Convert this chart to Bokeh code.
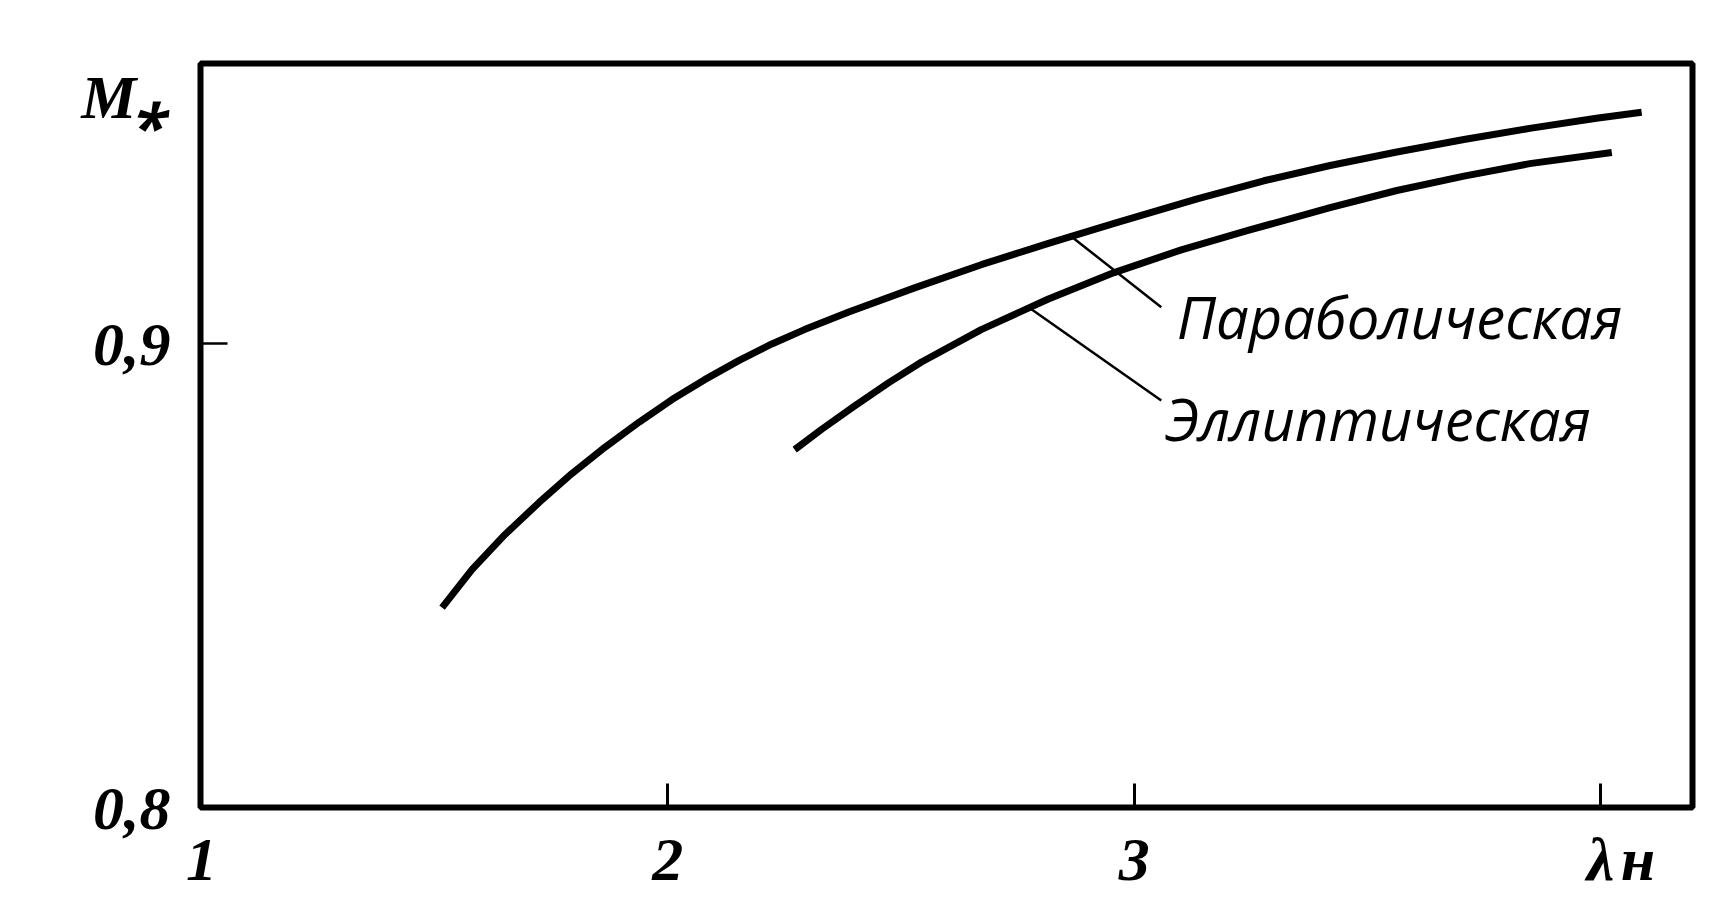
import numpy as np
from bokeh.plotting import figure
from bokeh.models import Range1d, FixedTicker, Label
from bokeh.embed import file_html
from bokeh.resources import INLINE

# ---- data ----
lam_parab = [1.516, 1.580, 1.651, 1.724, 1.794, 1.865, 1.938, 2.009, 2.079, 2.152,
             2.223, 2.293, 2.388, 2.529, 2.672, 2.816, 2.957, 3.135, 3.278, 3.420,
             3.563, 3.707, 3.848, 3.991, 4.088]
m_parab = [0.8431, 0.8513, 0.8589, 0.8658, 0.8720, 0.8777, 0.8831, 0.8880, 0.8923,
           0.8964, 0.9000, 0.9031, 0.9069, 0.9121, 0.9171, 0.9217, 0.9260, 0.9313,
           0.9352, 0.9385, 0.9414, 0.9441, 0.9465, 0.9487, 0.9500]

lam_ellip = [2.272, 2.330, 2.400, 2.473, 2.544, 2.672, 2.816, 2.957, 3.101, 3.244,
             3.420, 3.563, 3.707, 3.848, 4.024]
m_ellip = [0.8772, 0.8816, 0.8866, 0.8916, 0.8961, 0.9031, 0.9097, 0.9154, 0.9203,
           0.9245, 0.9294, 0.9331, 0.9362, 0.9389, 0.9413]

# tick labels (the axis titles λн and M* sit in the tick rows, as in the reference)
x_ticks = [1, 2, 3, 4, 4.08]
x_tick_labels = ["1", "2", "3", "λ", "н"]
x_tick_marks = [2, 3, 4]
y_ticks = [0.8, 0.9, 0.9532]
y_tick_labels = ["0,8", "0,9", "M⁎"]
y_tick_marks = [0.9]

curve_names = ["Параболическая", "Эллиптическая"]

# ---- figure ----
p = figure(width=1709, height=906, output_backend="svg", toolbar_location=None,
           x_range=Range1d(0.998, 4.197), y_range=Range1d(0.8, 0.9605),
           min_border_left=200, min_border_right=17, min_border_top=63,
           min_border_bottom=99)
p.background_fill_color = "white"
p.border_fill_color = "white"
p.outline_line_color = "black"
p.outline_line_width = 6
p.xgrid.visible = False
p.ygrid.visible = False

tick_font = "Liberation Serif"

xa = p.xaxis[0]
xa.ticker = FixedTicker(ticks=x_ticks, minor_ticks=x_tick_marks)
xa.major_label_overrides = {t: l for t, l in zip(x_ticks, x_tick_labels)}
xa.axis_line_color = None
xa.major_tick_in = 0
xa.major_tick_out = 0
xa.major_tick_line_color = None
xa.minor_tick_in = 24
xa.minor_tick_out = 0
xa.minor_tick_line_width = 3
xa.minor_tick_line_color = "black"
xa.major_label_text_font = tick_font
xa.major_label_text_font_style = "bold italic"
xa.major_label_text_font_size = "62px"
xa.major_label_text_color = "black"
xa.major_label_standoff = 17

ya = p.yaxis[0]
ya.ticker = FixedTicker(ticks=y_ticks, minor_ticks=y_tick_marks)
ya.major_label_overrides = {t: l for t, l in zip(y_ticks, y_tick_labels)}
ya.axis_line_color = None
ya.major_tick_in = 0
ya.major_tick_out = 0
ya.major_tick_line_color = None
ya.minor_tick_in = 27
ya.minor_tick_out = 0
ya.minor_tick_line_width = 2.5
ya.minor_tick_line_color = "black"
ya.major_label_text_font = tick_font
ya.major_label_text_font_style = "bold italic"
ya.major_label_text_font_size = "62px"
ya.major_label_text_color = "black"
ya.major_label_standoff = 30

# ---- curves ----
p.line(lam_parab, m_parab, line_color="black", line_width=7, line_join="round")
p.line(lam_ellip, m_ellip, line_color="black", line_width=7, line_join="round")

# ---- leader lines from curves to names ----
lead_from = [2.865, 2.775]
lead_to_x = [3.058, 3.058]
lead_to_y = [0.9079, 0.8878]
starts_y = [float(np.interp(lead_from[0], lam_parab, m_parab)),
            float(np.interp(lead_from[1], lam_ellip, m_ellip))]
p.segment(x0=lead_from, y0=starts_y, x1=lead_to_x, y1=lead_to_y,
          line_color="black", line_width=2.5)

p.add_layout(Label(x=3.091, y=0.9060, text=curve_names[0], text_font="Open Sans",
                   text_font_style="italic", text_font_size="58px",
                   text_color="black", text_baseline="alphabetic"))
p.add_layout(Label(x=3.066, y=0.8840, text=curve_names[1], text_font="Open Sans",
                   text_font_style="italic", text_font_size="58px",
                   text_color="black", text_baseline="alphabetic"))

open("out.html", "w").write(file_html(p, INLINE))
